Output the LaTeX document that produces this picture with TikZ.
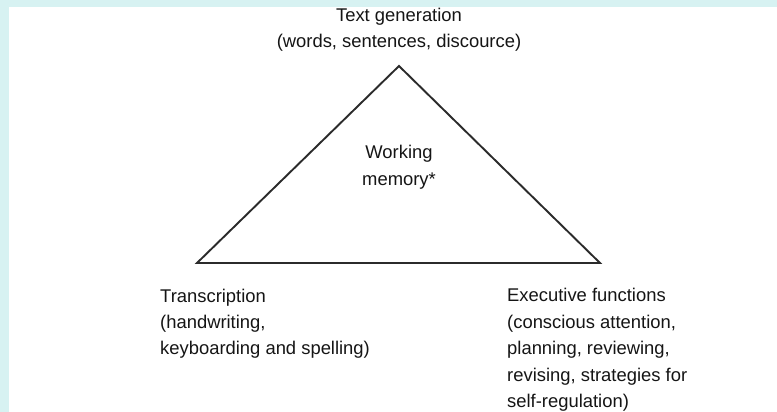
\documentclass[tikz,border=0pt]{standalone}
\usepackage{fontspec}
\setmainfont{Liberation Sans}
\definecolor{bandcyan}{HTML}{D7F2F2}
\definecolor{edgegray}{HTML}{2B2B2B}
\definecolor{txtgray}{HTML}{151515}
\begin{document}
\begin{tikzpicture}[x={(1pt,0)}, y={(0,-1pt)},
  lbl/.style={inner sep=0pt, text=txtgray, font=\fontsize{18.4}{26.4}\selectfont},
  tri/.style={draw=edgegray, line width=1.9pt, line join=miter}]
\useasboundingbox (0,0) rectangle (777,412);
\fill[white] (0,0) rectangle (777,412);
\fill[bandcyan] (0,0) rectangle (777,7);
\fill[bandcyan] (0,0) rectangle (9,412);
% triangle corners
\coordinate (apex) at (399,66);
\coordinate (lc) at (197,263);
\coordinate (rc) at (600,263);
\draw[tri] (lc) -- (apex) -- (rc) -- cycle;
% labels (base anchor = baseline of last line)
\node[lbl, align=center, anchor=base] (tg) at (399,48) {Text generation\\(words, sentences, discource)};
\node[lbl, align=center, anchor=base] (wm) at (399,185) {Working\\memory*};
\node[lbl, align=left, anchor=base west] (tr) at (160,354.8) {Transcription\\(handwriting,\\keyboarding and spelling)};
\node[lbl, align=left, anchor=base west] (ef) at (507,407.4) {Executive functions\\(conscious attention,\\planning, reviewing,\\revising, strategies for\\self-regulation)};
\end{tikzpicture}
\end{document}
